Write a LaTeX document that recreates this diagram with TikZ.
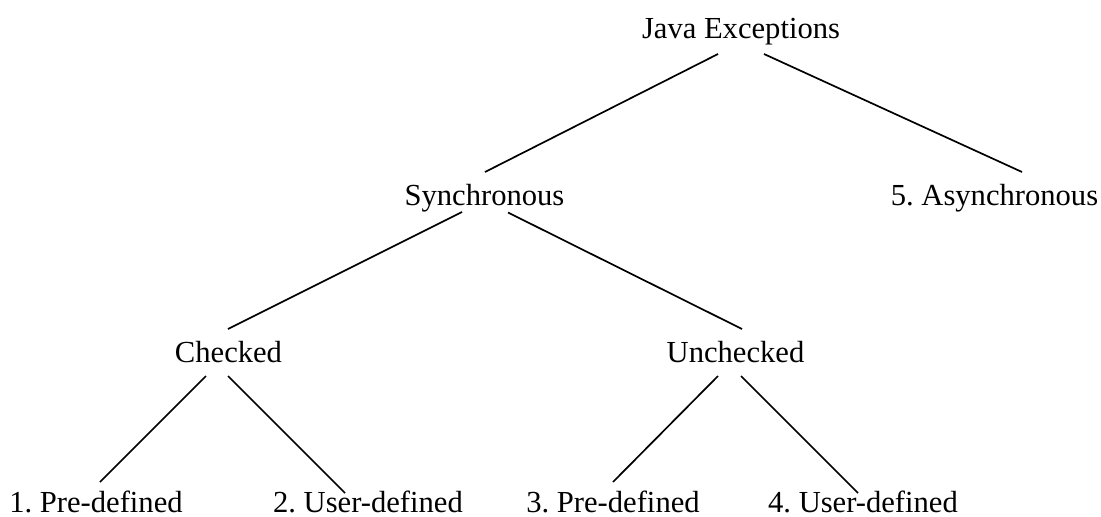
\documentclass[tikz,border=0pt]{standalone}
\usepackage{fontspec}
\setmainfont{Liberation Serif}
\frenchspacing
\begin{document}
\begin{tikzpicture}[x=1pt,y=-1pt,
  lbl/.style={anchor=base, inner sep=0pt, font=\fontsize{30.6}{36}\selectfont},
  edge/.style={line width=1.7pt, black}]
  \useasboundingbox (0,0) rectangle (1101,517);

  % tree labels, placed by their baselines
  \node[lbl] (java)  at (741,38)   {Java Exceptions};
  \node[lbl] (sync)  at (484.5,205) {Synchronous};
  \node[lbl] (async) at (994.5,205) {5. Asynchronous};
  \node[lbl] (chk)   at (228.5,362) {Checked};
  \node[lbl] (unchk) at (735.5,362) {Unchecked};
  \node[lbl] (p1)    at (96,512)   {1. Pre-defined};
  \node[lbl] (u2)    at (368,512)  {2. User-defined};
  \node[lbl] (p3)    at (613,512)  {3. Pre-defined};
  \node[lbl] (u4)    at (863,512)  {4. User-defined};

  % branches
  \draw[edge] ([shift={(-23,16)}]java.base)   -- ([shift={(0.5,-33)}]sync.base);
  \draw[edge] ([shift={(23,16)}]java.base)    -- ([shift={(27.5,-33)}]async.base);
  \draw[edge] ([shift={(-22.5,7)}]sync.base)  -- ([shift={(-0.5,-33)}]chk.base);
  \draw[edge] ([shift={(23.5,7.5)}]sync.base) -- ([shift={(6.5,-33)}]unchk.base);
  \draw[edge] ([shift={(-22.5,14)}]chk.base)  -- ([shift={(4,-30)}]p1.base);
  \draw[edge] ([shift={(-0.5,14)}]chk.base)   -- ([shift={(-23,-19)}]u2.base);
  \draw[edge] ([shift={(-17.5,14)}]unchk.base) -- ([shift={(0,-30)}]p3.base);
  \draw[edge] ([shift={(5.5,14)}]unchk.base)  -- ([shift={(-5,-19)}]u4.base);
\end{tikzpicture}
\end{document}
